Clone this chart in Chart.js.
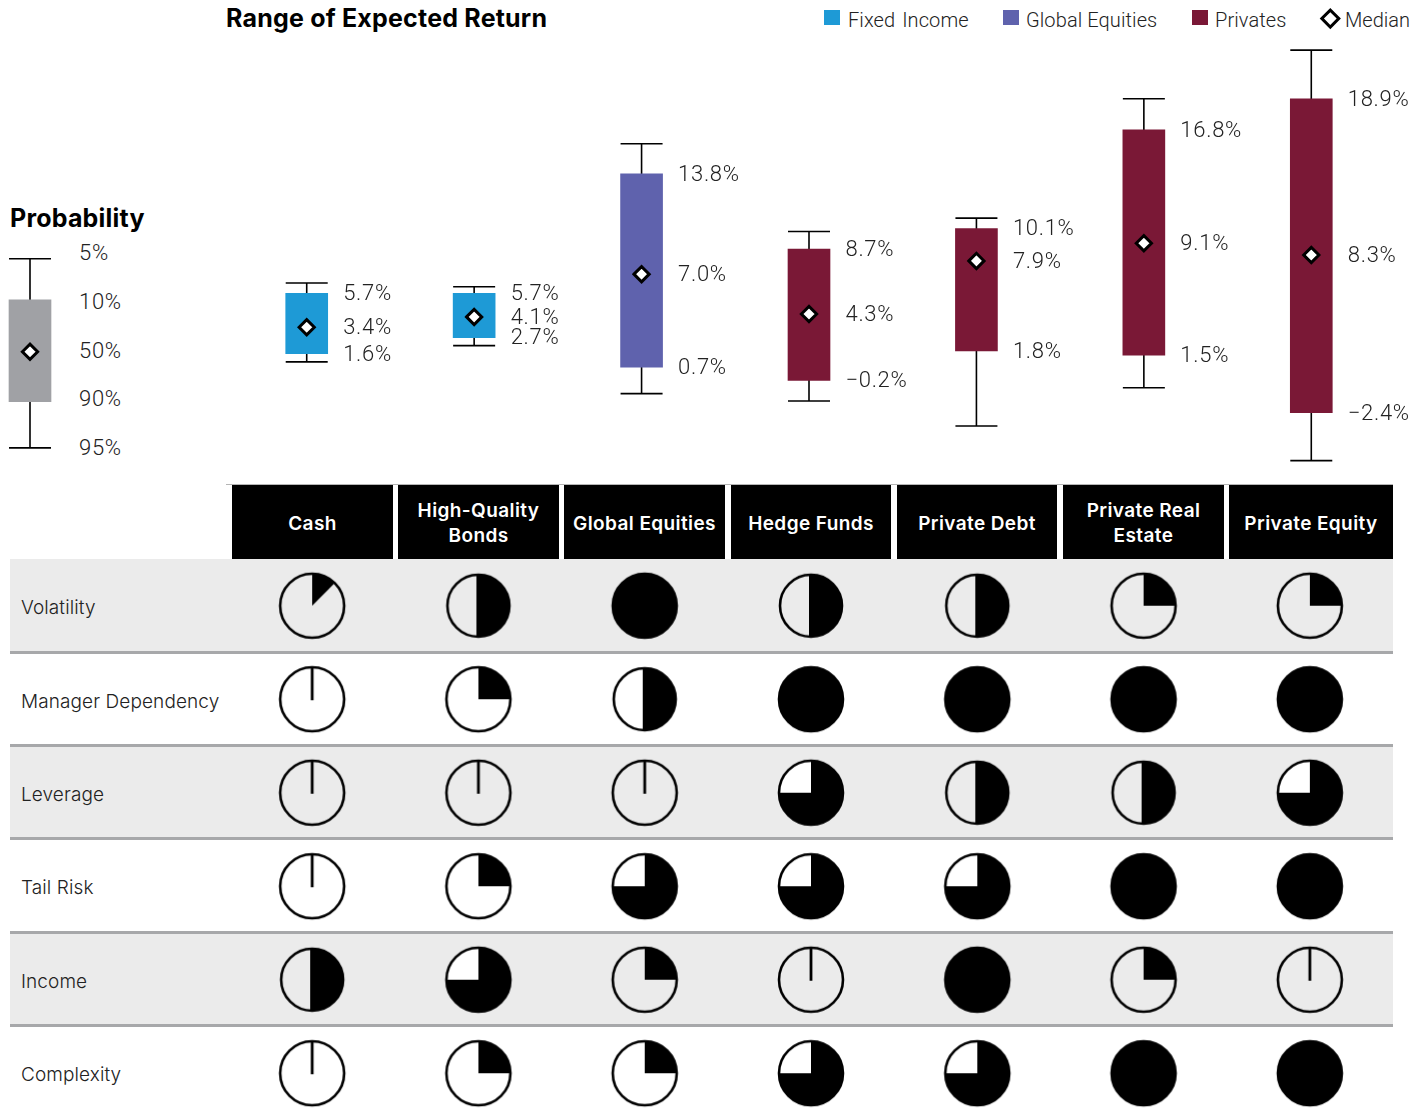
<!DOCTYPE html>
<html>
<head>
<meta charset="utf-8">
<title>Range of Expected Return</title>
<script src="https://cdn.jsdelivr.net/npm/chart.js@4"></script>
<style>
    html, body { margin: 0; padding: 0; width: 1427px; height: 1116px; overflow: hidden; background: #fff; }
    body { position: relative; font-family: Inter, sans-serif; color: #000; }
    canvas { position: absolute; }
    #rangeChart { left: 223px; top: 0; }
    #keyChart { left: 0; top: 0; }
    #ballChart { left: 229px; top: 559px; }

    .heading { position: absolute; font-weight: 700; font-size: 25px; letter-spacing: 0.2px; line-height: 30px; white-space: nowrap; }
    .legend-item { position: absolute; top: 8px; font: 300 20px/24px Roboto, sans-serif; letter-spacing: 0.1px; color: #222; white-space: pre; }
    .legend-box { position: absolute; top: 10px; width: 16px; height: 15px; }
    .legend-diamond { position: absolute; left: 1322.5px; top: 11px; width: 8.6px; height: 8.6px; border: 3.2px solid #000; background: #fff; transform: rotate(45deg); }

    .key-label { position: absolute; left: 79px; font: 300 22px/24px Roboto, sans-serif; letter-spacing: 0.7px; color: #222; }

    .header-cell {
        position: absolute; top: 485px; height: 74px; box-sizing: border-box; padding-top: 2px;
        background: #000; color: #fff;
        display: flex; align-items: center; justify-content: center; text-align: center;
        font-weight: 600; font-size: 19px; line-height: 25px; letter-spacing: 0.4px;
    }
    .header-rule { position: absolute; left: 226px; top: 484px; width: 1167px; height: 1px; background: #b5b5b5; }
    .row-band { position: absolute; left: 10px; width: 1383px; box-sizing: border-box; border-bottom: 3px solid #a7a8aa; }
    .row-band.shaded { background: #ebebeb; }
    .row-band.last { border-bottom: none; }
    .row-label { position: absolute; left: 21px; font-weight: 300; font-size: 19px; letter-spacing: 0.1px; line-height: 24px; color: #222; white-space: nowrap; }
</style>
</head>
<body>
<div class="heading" style="left:226px;top:3px">Range of Expected Return</div>
<div class="heading" style="left:10px;top:203px">Probability</div>
<div id="legend"></div>
<div id="keyLabels"></div>
<div id="table"></div>
<canvas id="keyChart" width="60" height="472"></canvas>
<canvas id="rangeChart" width="1204" height="472"></canvas>
<canvas id="ballChart" width="1164" height="561"></canvas>

<script>
// Asset classes, in column order
const assets = ['Cash', 'High-Quality Bonds', 'Global Equities', 'Hedge Funds', 'Private Debt', 'Private Real Estate', 'Private Equity'];
const assetGroups = ['Fixed Income', 'Fixed Income', 'Global Equities', 'Privates', 'Privates', 'Privates', 'Privates'];

// Expected return range (%), 5th to 95th percentile
const whiskerHigh = [6.4, 6.15, 15.85, 9.9, 10.8, 18.9, 22.2];
const boxHigh = [5.7, 5.7, 13.8, 8.7, 10.1, 16.8, 18.9];
const medians = [3.4, 4.1, 7.0, 4.3, 7.9, 9.1, 8.3];
const boxLow = [1.6, 2.7, 0.7, -0.2, 1.8, 1.5, -2.4];
const whiskerLow = [1.05, 2.15, -1.1, -1.6, -3.3, -0.7, -5.65];

// Probability key box
const keyCategory = ['Probability'];
const keyWhiskerHigh = [8.05];
const keyBoxHigh = [5.26];
const keyMedian = [1.74];
const keyBoxLow = [-1.65];
const keyWhiskerLow = [-4.78];
const keyLabels = ['5%', '10%', '50%', '90%', '95%'];

// Legend
const legendNames = ['Fixed  Income', 'Global Equities', 'Privates'];
const legendColors = ['#1e9ad6', '#5f62ad', '#7a1836'];
const groupColors = { 'Fixed Income': '#1e9ad6', 'Global Equities': '#5f62ad', 'Privates': '#7a1836' };

// Qualitative ratings: filled share of each ball
const rowNames = ['Volatility', 'Manager Dependency', 'Leverage', 'Tail Risk', 'Income', 'Complexity'];
const volatility = [0.125, 0.5, 1, 0.5, 0.5, 0.25, 0.25];
const managerDependency = [0, 0.25, 0.5, 1, 1, 1, 1];
const leverage = [0, 0, 0, 0.75, 0.5, 0.5, 0.75];
const tailRisk = [0, 0.25, 0.75, 0.75, 0.75, 1, 1];
const income = [0.5, 0.75, 0.25, 0, 1, 0.25, 0];
const complexity = [0, 0.25, 0.25, 0.75, 0.75, 1, 1];
const ratings = [volatility, managerDependency, leverage, tailRisk, income, complexity];

function formatPercent(value) {
    return value.toFixed(1).replace('-', '\u2212') + '%';
}

// Whiskers behind the boxes, value labels beside them
const whiskerPlugin = {
    id: 'whiskers',
    beforeDatasetsDraw(chart, args, opts) {
        const ctx = chart.ctx;
        const x = chart.scales.x;
        const y = chart.scales.y;
        ctx.save();
        ctx.strokeStyle = '#000';
        ctx.lineWidth = 1.6;
        opts.high.forEach((high, i) => {
            const cx = x.getPixelForValue(i);
            const top = y.getPixelForValue(high);
            const bottom = y.getPixelForValue(opts.low[i]);
            ctx.beginPath();
            ctx.moveTo(cx, top);
            ctx.lineTo(cx, bottom);
            ctx.moveTo(cx - 21, top);
            ctx.lineTo(cx + 21, top);
            ctx.moveTo(cx - 21, bottom);
            ctx.lineTo(cx + 21, bottom);
            ctx.stroke();
        });
        ctx.restore();
    },
    afterDatasetsDraw(chart, args, opts) {
        if (!opts.showValues) return;
        const ctx = chart.ctx;
        const x = chart.scales.x;
        const y = chart.scales.y;
        ctx.save();
        ctx.font = '300 22px Roboto, sans-serif';
        ctx.letterSpacing = '0.7px';
        ctx.fillStyle = '#222';
        ctx.textBaseline = 'middle';
        assets.forEach((name, i) => {
            [boxHigh[i], medians[i], boxLow[i]].forEach(value => {
                ctx.fillText(formatPercent(value), x.getPixelForValue(i) + 36.5, y.getPixelForValue(value) + 1.3);
            });
        });
        ctx.restore();
    }
};

function makeRangeChart(id, labels, high, low, middle, topWhisker, bottomWhisker, colors, showValues, rightPadding) {
    return new Chart(document.getElementById(id), {
        type: 'bar',
        data: {
            labels: labels,
            datasets: [
                {
                    label: 'Median',
                    type: 'line',
                    data: middle,
                    showLine: false,
                    pointStyle: 'rectRot',
                    pointRadius: 7.6,
                    pointBackgroundColor: '#fff',
                    pointBorderColor: '#000',
                    pointBorderWidth: 3,
                    order: 1
                },
                {
                    label: 'Range',
                    data: high.map((value, i) => [low[i], value]),
                    backgroundColor: colors,
                    barThickness: 42,
                    order: 2
                }
            ]
        },
        options: {
            responsive: false,
            animation: false,
            layout: { autoPadding: false, padding: { right: rightPadding } },
            plugins: {
                legend: { display: false },
                tooltip: { enabled: false },
                whiskers: { high: topWhisker, low: bottomWhisker, showValues: showValues }
            },
            scales: {
                x: { display: false },
                y: { display: false, min: -6.42, max: 25.6 }
            }
        },
        plugins: [whiskerPlugin]
    });
}

makeRangeChart('keyChart', keyCategory, keyBoxHigh, keyBoxLow, keyMedian, keyWhiskerHigh, keyWhiskerLow, ['#a0a1a5'], false, 0);
makeRangeChart('rangeChart', assets, boxHigh, boxLow, medians, whiskerHigh, whiskerLow, assetGroups.map(g => groupColors[g]), true, 32);

// Legend and key labels
const legendEl = document.getElementById('legend');
[[824, 848], [1003, 1026], [1192, 1215]].forEach((pos, i) => {
    const box = document.createElement('div');
    box.className = 'legend-box';
    box.style.left = pos[0] + 'px';
    box.style.background = legendColors[i];
    legendEl.appendChild(box);
    const text = document.createElement('div');
    text.className = 'legend-item';
    text.style.left = pos[1] + 'px';
    if (i === 0) text.style.wordSpacing = '-1.5px';
    text.textContent = legendNames[i];
    legendEl.appendChild(text);
});
const diamond = document.createElement('div');
diamond.className = 'legend-diamond';
legendEl.appendChild(diamond);
const medianText = document.createElement('div');
medianText.className = 'legend-item';
medianText.style.left = '1345px';
medianText.style.letterSpacing = '0';
medianText.textContent = 'Median';
legendEl.appendChild(medianText);

keyLabels.forEach((label, i) => {
    const el = document.createElement('div');
    el.className = 'key-label';
    el.style.top = (241 + i * 48.75) + 'px';
    el.textContent = label;
    document.getElementById('keyLabels').appendChild(el);
});

// Table frame: black headers, alternating row bands
const tableEl = document.getElementById('table');
const headerLefts = [232, 398, 564, 731, 897, 1063, 1229];
const headerWidths = [161, 161, 161, 160, 160, 161, 164];
const bandTops = [559, 654, 747, 840, 934, 1027, 1116];

const rule = document.createElement('div');
rule.className = 'header-rule';
tableEl.appendChild(rule);

assets.forEach((name, i) => {
    const cell = document.createElement('div');
    cell.className = 'header-cell';
    cell.style.left = headerLefts[i] + 'px';
    cell.style.width = headerWidths[i] + 'px';
    cell.textContent = name;
    tableEl.appendChild(cell);
});

rowNames.forEach((name, i) => {
    const band = document.createElement('div');
    band.className = 'row-band' + (i % 2 === 0 ? ' shaded' : '') + (i === rowNames.length - 1 ? ' last' : '');
    band.style.top = bandTops[i] + 'px';
    band.style.height = (bandTops[i + 1] - bandTops[i]) + 'px';
    tableEl.appendChild(band);

    const label = document.createElement('div');
    label.className = 'row-label';
    label.style.top = (bandTops[i] + (i === 0 ? 37 : 36)) + 'px';
    label.textContent = name;
    tableEl.appendChild(label);
});

// One canvas per fill level, used as a point style
function buildBall(share) {
    const size = 72;
    const c = size / 2;
    const r = share === 0.5 ? 31 : 32;
    const canvas = document.createElement('canvas');
    canvas.width = size;
    canvas.height = size;
    const ctx = canvas.getContext('2d');
    const start = -Math.PI / 2;

    if (share === 0.75) {
        ctx.fillStyle = '#fff';
        ctx.beginPath();
        ctx.arc(c, c, r, 0, Math.PI * 2);
        ctx.fill();
    }
    ctx.fillStyle = '#000';
    if (share > 0) {
        ctx.beginPath();
        ctx.moveTo(c, c);
        ctx.arc(c, c, r, start, start + share * Math.PI * 2);
        ctx.closePath();
        ctx.fill();
    }
    // half balls split slightly left of centre
    if (share === 0.5) {
        ctx.fillRect(c - 2, c - r, 2, 2 * r);
    }
    ctx.strokeStyle = '#000';
    ctx.lineWidth = 2.6;
    ctx.beginPath();
    ctx.arc(c, c, r, 0, Math.PI * 2);
    ctx.stroke();
    if (share === 0) {
        ctx.lineWidth = 2.8;
        ctx.beginPath();
        ctx.moveTo(c, c + 1);
        ctx.lineTo(c, c - r);
        ctx.stroke();
    }
    return canvas;
}

const ballStyles = {};
[0, 0.125, 0.25, 0.5, 0.75, 1].forEach(share => { ballStyles[share] = buildBall(share); });

const ballPoints = [];
rowNames.forEach((rowName, r) => {
    assets.forEach((asset, a) => {
        ballPoints.push({ x: asset, y: rowName, share: ratings[r][a] });
    });
});

new Chart(document.getElementById('ballChart'), {
    type: 'scatter',
    data: {
        datasets: [{
            label: 'Ratings',
            data: ballPoints,
            pointRadius: 33,
            pointStyle: ctx => ballStyles[ctx.raw ? ctx.raw.share : 0]
        }]
    },
    options: {
        responsive: false,
        animation: false,
        layout: { autoPadding: false },
        plugins: { legend: { display: false }, tooltip: { enabled: false } },
        scales: {
            x: { type: 'category', labels: assets, offset: true, display: false },
            y: { type: 'category', labels: rowNames, offset: true, display: false }
        }
    }
});
</script>
</body>
</html>
